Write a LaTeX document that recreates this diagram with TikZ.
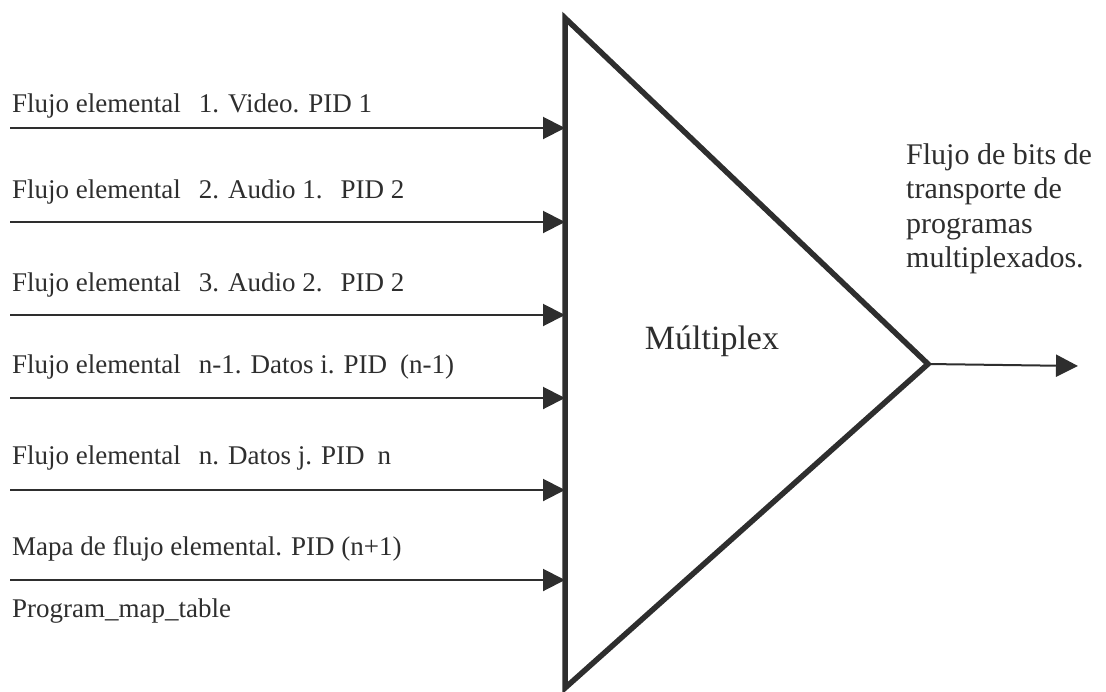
\documentclass[tikz,border=0pt]{standalone}
\usepackage{fontspec}
\setmainfont{Liberation Serif}
\usetikzlibrary{arrows.meta}
\definecolor{ink}{HTML}{2E2E2E}
% wide gap between the parts of a stream label
\newcommand{\wgap}{\hspace{18pt}}
\begin{document}
\begin{tikzpicture}[x=1pt,y=1pt,
  every node/.style={text=ink, inner sep=0pt},
  lbl/.style={anchor=base west, font=\fontsize{27}{32}\selectfont},
  feed/.style={draw=ink, line width=2pt, -{Triangle[length=22pt,width=22pt]}},
  mux/.style={draw=ink, line width=5.5pt, line join=miter}]
\useasboundingbox (0,0) rectangle (1106,-691);

% multiplexer body
\coordinate (top) at (565,-18);
\coordinate (apex) at (928,-364);
\coordinate (bot) at (565,-688);
\draw[mux] (top) -- (apex) -- (bot) -- cycle;
\node[anchor=base, font=\fontsize{34}{40}\selectfont] (mx) at (712,-349) {Múltiplex};

% input streams
\node[lbl] (l1) at (12,-112) {Flujo elemental\wgap 1. Video. PID 1};
\node[lbl] (l2) at (12,-198) {Flujo elemental\wgap 2. Audio 1.\wgap PID 2};
\node[lbl] (l3) at (12,-291) {Flujo elemental\wgap 3. Audio 2.\wgap PID 2};
\node[lbl] (l4) at (12,-373) {Flujo elemental\wgap n-1. Datos i. PID\hspace{13pt}(n-1)};
\node[lbl] (l5) at (12,-464) {Flujo elemental\wgap n. Datos j. PID\hspace{13pt}n};
\node[lbl] (l6) at (12,-555) {Mapa de flujo elemental. PID (n+1)};
\node[lbl] (l7) at (12,-617) {Program\_map\_table};

\foreach \i/\y in {1/128,2/222,3/315,4/398,5/490,6/580}{
  \coordinate (s\i) at (10,-\y);
  \coordinate (e\i) at (565,-\y);
  \draw[feed] (s\i) -- (e\i);
}

% output stream
\coordinate (out) at (1078,-366);
\draw[feed] (apex) -- (out);
\node[anchor=north west, align=left, font=\fontsize{30}{34.5}\selectfont] (ol) at (906,-143)
  {Flujo de bits de\\transporte de\\programas\\multiplexados.};
\end{tikzpicture}
\end{document}
